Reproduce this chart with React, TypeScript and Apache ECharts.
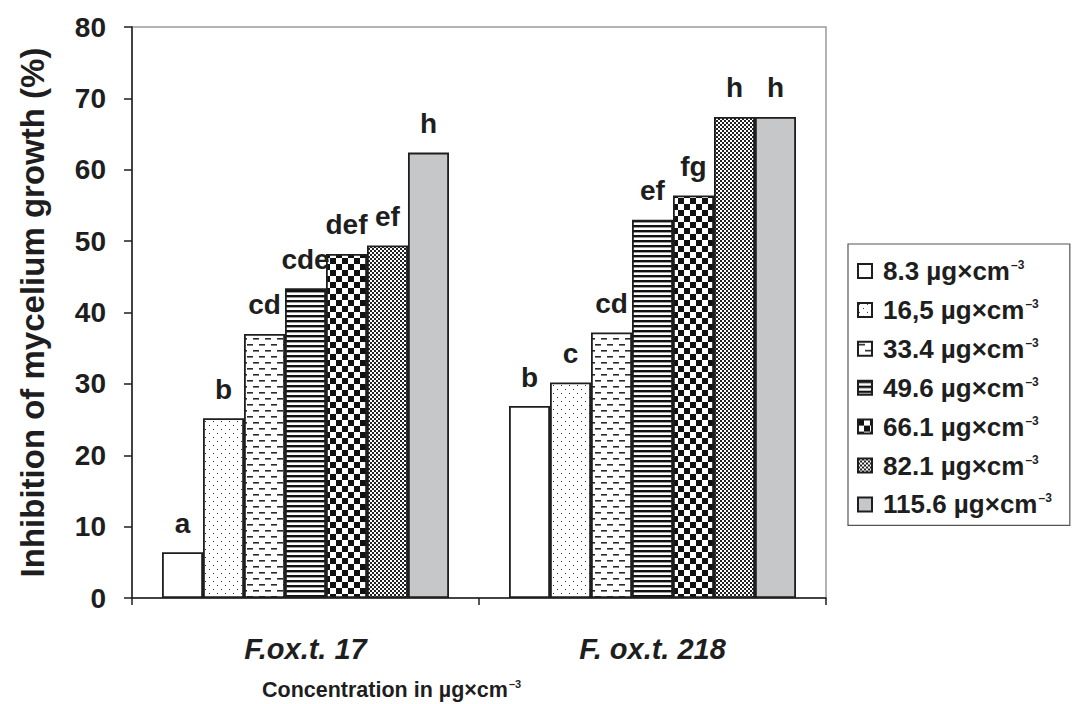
import React, { useEffect, useRef } from 'react';
import * as echarts from 'echarts';

// Fungal strains on the category axis
const strains = ['F.ox.t. 17', 'F. ox.t. 218'];
// Tested concentrations (µg×cm⁻³), one series each
const concentrations = ['8.3', '16,5', '33.4', '49.6', '66.1', '82.1', '115.6'];
// Inhibition of mycelium growth (%) per concentration, for each strain
const inhibitionStrain17 = [6.4, 25.2, 37.0, 43.4, 48.2, 49.4, 62.4];
const inhibitionStrain218 = [26.9, 30.2, 37.2, 53.0, 56.4, 67.4, 67.4];
// Significance letters above the bars
const lettersStrain17 = ['a', 'b', 'cd', 'cde', 'def', 'ef', 'h'];
const lettersStrain218 = ['b', 'c', 'cd', 'ef', 'fg', 'h', 'h'];
// Value axis range
const yMin = 0;
const yMax = 80;
const yStep = 10;

const FONT = '"Liberation Sans", Arial, Helvetica, sans-serif';
const INK = '#1e1e1e';

type Fill = string | { image: HTMLCanvasElement; repeat: string; imageWidth: number; imageHeight: number };

function tile(w: number, h: number, draw: (g: CanvasRenderingContext2D) => void): Fill {
  const c = document.createElement('canvas');
  c.width = w;
  c.height = h;
  const g = c.getContext('2d')!;
  g.fillStyle = '#ffffff';
  g.fillRect(0, 0, w, h);
  g.fillStyle = '#111111';
  draw(g);
  return { image: c, repeat: 'repeat', imageWidth: w, imageHeight: h };
}

function fillFor(index: number): Fill {
  switch (index) {
    case 0:
      return '#ffffff';
    case 1: // sparse dots
      return tile(8, 8, (g) => {
        g.fillStyle = '#333333';
        g.fillRect(1, 1, 1, 1);
        g.fillRect(5, 5, 1, 1);
      });
    case 2: // staggered short dashes
      return tile(12, 12, (g) => {
        g.fillStyle = '#2a2a2a';
        g.fillRect(1, 2, 6, 1.6);
        g.fillRect(7, 8, 6, 1.6);
        g.fillRect(-5, 8, 6, 1.6);
      });
    case 3: // horizontal stripes
      return tile(4, 5, (g) => {
        g.fillRect(0, 0, 4, 2.4);
      });
    case 4: // large checkerboard
      return tile(12, 12, (g) => {
        g.fillRect(0, 0, 6, 6);
        g.fillRect(6, 6, 6, 6);
      });
    case 5: // fine checkerboard
      return tile(4, 4, (g) => {
        g.fillStyle = '#222222';
        g.fillRect(0, 0, 2, 2);
        g.fillRect(2, 2, 2, 2);
      });
    default:
      return '#c6c7c9';
  }
}

export default function App() {
  const ref = useRef<HTMLDivElement>(null);

  useEffect(() => {
    document.body.style.margin = '0';
    const chart = echarts.init(ref.current!, null, { renderer: 'svg' });

    const series = concentrations.map((conc, i) => ({
      name: `${conc} µg×cm⁻³`,
      type: 'bar',
      data: [inhibitionStrain17[i], inhibitionStrain218[i]],
      barGap: '0%',
      barCategoryGap: '17.3%',
      itemStyle: {
        color: fillFor(i),
        borderColor: INK,
        borderWidth: 1.8,
      },
      label: {
        show: true,
        position: 'top',
        distance: 15,
        formatter: (p: any) => (p.dataIndex === 0 ? lettersStrain17[i] : lettersStrain218[i]),
        fontFamily: FONT,
        fontWeight: 'bold',
        fontSize: 28,
        color: INK,
      },
    }));

    chart.setOption({
      animation: false,
      backgroundColor: '#ffffff',
      grid: {
        left: 132,
        right: 248,
        top: 27,
        bottom: 106,
        show: true,
        borderColor: '#9a9a9a',
        borderWidth: 1.5,
        backgroundColor: 'transparent',
      },
      xAxis: {
        type: 'category',
        data: strains,
        axisLine: { lineStyle: { color: INK, width: 1.5 } },
        axisTick: { show: true, length: 7, lineStyle: { color: INK, width: 1.5 } },
        axisLabel: {
          margin: 36,
          fontFamily: FONT,
          fontWeight: 'bold',
          fontStyle: 'italic',
          fontSize: 29,
          color: INK,
        },
      },
      yAxis: {
        type: 'value',
        min: yMin,
        max: yMax,
        interval: yStep,
        name: 'Inhibition of mycelium growth (%)',
        nameLocation: 'middle',
        nameGap: 83,
        nameTextStyle: { fontFamily: FONT, fontWeight: 'bold', fontSize: 33, color: INK },
        axisLine: { show: true, lineStyle: { color: INK, width: 1.5 } },
        axisTick: { show: true, length: 8, lineStyle: { color: INK, width: 1.5 } },
        splitLine: { show: false },
        axisLabel: {
          margin: 26,
          fontFamily: FONT,
          fontWeight: 'bold',
          fontSize: 28,
          color: INK,
        },
      },
      legend: {
        orient: 'vertical',
        left: 848,
        top: 244,
        padding: [14, 18, 8, 9],
        itemGap: 12.9,
        itemWidth: 14,
        itemHeight: 14,
        backgroundColor: '#ffffff',
        borderColor: '#555555',
        borderWidth: 1.2,
        borderRadius: 0,
        icon: 'rect',
        selectedMode: false,
        formatter: (name: string) => `{a|${name.replace('⁻³', '')}}{s|–3}`,
        textStyle: {
          rich: {
            a: {
              fontFamily: FONT,
              fontWeight: 'bold',
              fontSize: 26,
              color: INK,
              lineHeight: 24,
              padding: [0, 0, 0, 6],
            },
            s: {
              fontFamily: FONT,
              fontWeight: 'bold',
              fontSize: 12,
              color: INK,
              verticalAlign: 'top',
              lineHeight: 24,
              padding: [0, 0, 8, 1],
            },
          },
        },
      },
      graphic: [
        {
          type: 'text',
          left: 262,
          top: 678,
          style: {
            text: '{a|Concentration in µg×cm}{s|–3}',
            rich: {
              a: { fontFamily: FONT, fontWeight: 'bold', fontSize: 21.5, fill: INK, lineHeight: 24 },
              s: {
                fontFamily: FONT,
                fontWeight: 'bold',
                fontSize: 11,
                fill: INK,
                verticalAlign: 'top',
                lineHeight: 24,
                padding: [0, 0, 8, 1],
              },
            },
          },
        },
      ],
      series,
    });

    return () => chart.dispose();
  }, []);

  return <div ref={ref} style={{ width: 1074, height: 704 }} />;
}
